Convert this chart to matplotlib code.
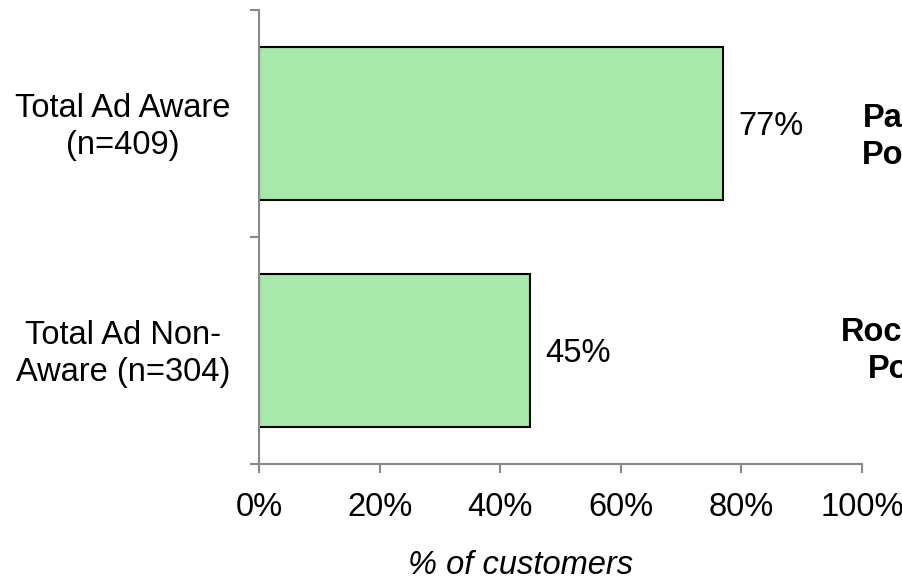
import matplotlib.pyplot as plt
import numpy as np

plt.rcParams['font.family'] = ['Liberation Sans', 'DejaVu Sans']

categories = ["Total Ad Aware\n(n=409)", "Total Ad Non-\nAware (n=304)"]
values = [77, 45]
value_labels = ["77%", "45%"]
side_labels = ["Paid\nPost", "Rockies\nPost"]
xticks = [0, 20, 40, 60, 80, 100]
xtick_labels = ["0%", "20%", "40%", "60%", "80%", "100%"]

FS = 23.5

fig = plt.figure(figsize=(9.03, 5.83), dpi=100)
ax = fig.add_axes([0.2868, 0.2041, 0.6678, 0.7787])

ypos = np.arange(len(values))[::-1]
ax.barh(ypos, values, height=0.67, color='#a6e9aa', edgecolor='black', linewidth=1.5)

ax.set_xlim(0, 100)
ax.set_ylim(-0.5, 1.5)
ax.set_xticks(xticks)
ax.set_xticklabels(xtick_labels, fontsize=FS)
ax.set_yticks([-0.5, 0.5, 1.5])
ax.set_yticklabels([])

# category labels, right-aligned block with centred lines
for y, lab in zip(ypos, categories):
    ax.text(-0.047, (y + 0.5) / 2.0 - 0.007, lab, transform=ax.transAxes, fontsize=FS,
            ha='right', va='center', multialignment='center', linespacing=1.25)

for spine in ['top', 'right']:
    ax.spines[spine].set_visible(False)
for spine in ['left', 'bottom']:
    ax.spines[spine].set_color('#898989')
    ax.spines[spine].set_linewidth(1.5)
ax.tick_params(axis='both', which='major', direction='out', length=6.5, width=1.5,
               color='#898989')
ax.tick_params(axis='x', pad=14)

for y, v, t in zip(ypos, values, value_labels):
    ax.text(v + 2.5, y - 0.015, t, fontsize=FS, va='center', ha='left')

# side notes run past the right edge, as in the original
ax.text(1.0, 0.72, side_labels[0], transform=ax.transAxes, fontsize=FS,
        fontweight='bold', ha='left', va='center', multialignment='center',
        linespacing=1.25, clip_on=False)
ax.text(0.965, 0.248, side_labels[1], transform=ax.transAxes, fontsize=FS,
        fontweight='bold', ha='left', va='center', multialignment='center',
        linespacing=1.25, clip_on=False)

fig.text(521 / 903, 1 - 566 / 583, "% of customers", fontsize=FS, style='italic',
         ha='center', va='center')

fig.savefig("out.png", dpi=100)
